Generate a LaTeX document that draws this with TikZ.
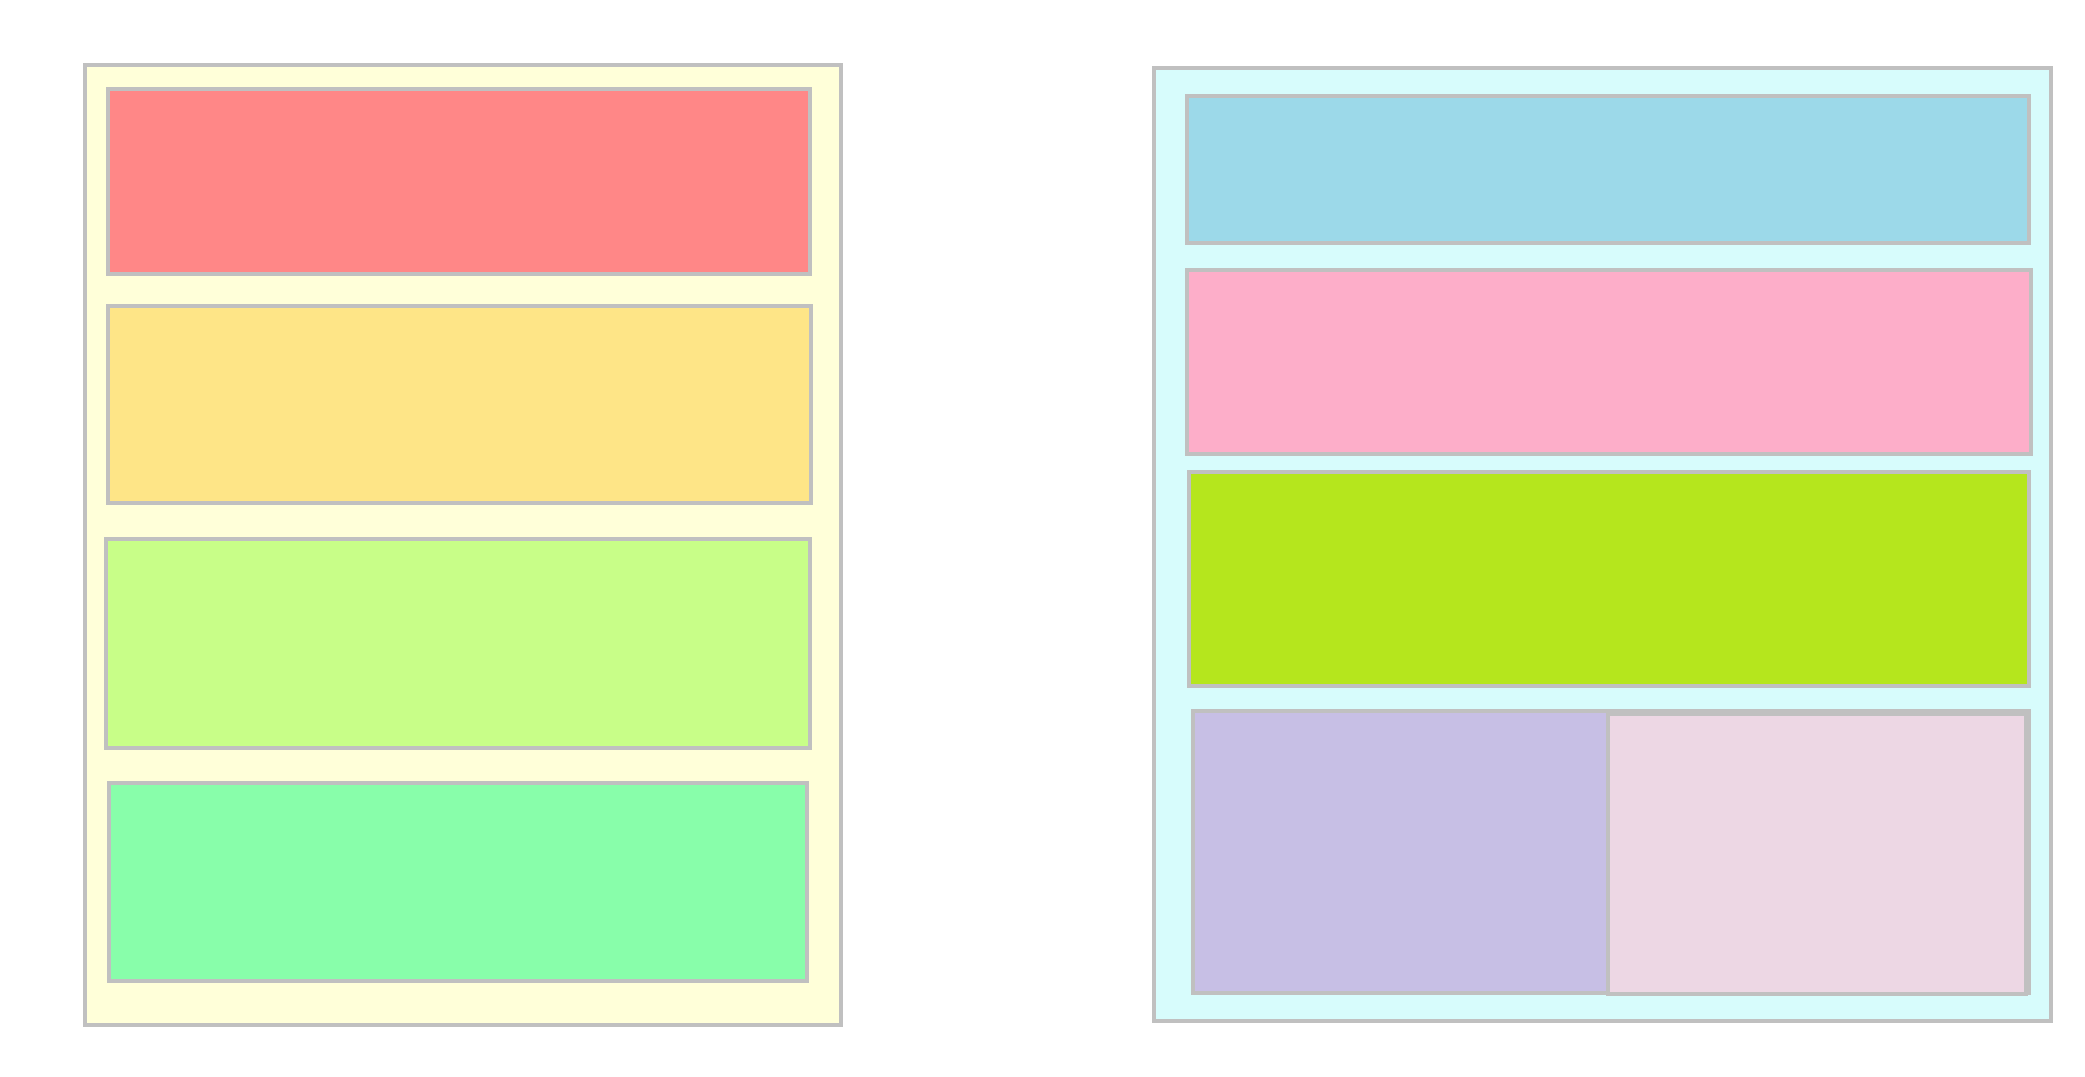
\documentclass[tikz,border=0pt]{standalone}
\definecolor{frame}{HTML}{C0C0C0}
\definecolor{cream}{HTML}{FFFFD9}
\definecolor{cyanbg}{HTML}{D7FCFC}
\definecolor{cred}{HTML}{FF8787}
\definecolor{cyellow}{HTML}{FEE587}
\definecolor{clgreen}{HTML}{C8FE88}
\definecolor{cgreen}{HTML}{88FEAA}
\definecolor{cblue}{HTML}{9CD9E9}
\definecolor{cpink}{HTML}{FDAEC9}
\definecolor{clime}{HTML}{B5E61D}
\definecolor{cpurple}{HTML}{C7BFE5}
\definecolor{cpale}{HTML}{EDD7E4}
\tikzset{panel/.style={draw=frame, line width=0.036cm}}
\begin{document}
\begin{tikzpicture}[x=0.01cm,y=-0.01cm]
\useasboundingbox (0,0) rectangle (2085,1077);
% left column
\filldraw[panel, fill=cream] (85,65) rectangle (841,1025);
\filldraw[panel, fill=cred] (108,89) rectangle (810,274);
\filldraw[panel, fill=cyellow] (108,306) rectangle (811,503);
\filldraw[panel, fill=clgreen] (106,539) rectangle (810,748);
\filldraw[panel, fill=cgreen] (109,783) rectangle (807,981);
% right column
\filldraw[panel, fill=cyanbg] (1154,68) rectangle (2051,1021);
\filldraw[panel, fill=cblue] (1187,96) rectangle (2029,243);
\filldraw[panel, fill=cpink] (1187,270) rectangle (2031,454);
\filldraw[panel, fill=clime] (1189,472) rectangle (2029,686);
\filldraw[panel, fill=cpurple] (1193,711) rectangle (2029,993);
\filldraw[panel, fill=cpale] (1608,714) rectangle (2026,994);
\end{tikzpicture}
\end{document}
